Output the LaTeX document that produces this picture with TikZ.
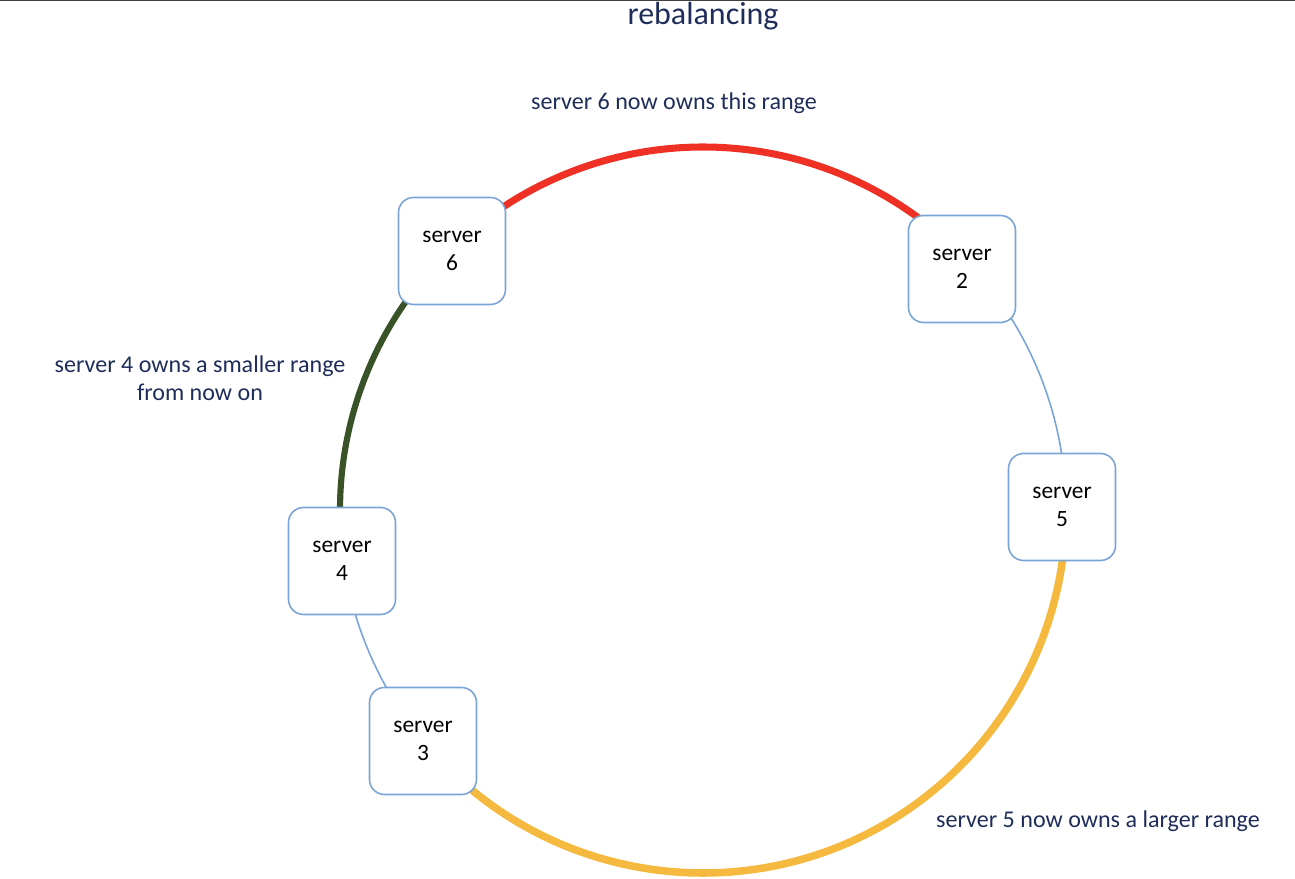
\documentclass[tikz,border=0pt]{standalone}
\usepackage{fontspec}
\setmainfont{Carlito}
\usetikzlibrary{positioning,backgrounds}
\definecolor{navy}{HTML}{1F2D5A}
\definecolor{boxblue}{HTML}{7AA3D6}
\definecolor{arcred}{HTML}{EE3124}
\definecolor{arcgreen}{HTML}{3A5228}
\definecolor{arcyellow}{HTML}{F4B93E}
\begin{document}
\begin{tikzpicture}[x=0.2mm,y=0.2mm,
server/.style={draw=boxblue,line width=0.9pt,fill=white,rounded corners=3mm,minimum width=21.4mm,minimum height=21.4mm,align=center,font=\fontsize{13.3}{16}\selectfont},
caption/.style={text=navy,align=center,font=\fontsize{13.7}{16}\selectfont}]
\useasboundingbox (0,0) rectangle (1295,879);
\draw[black!75,line width=1pt] (0,879) -- (1295,879);

\node[caption,font=\fontsize{18.2}{22}\selectfont] at (703,863) (title) {rebalancing};
\node[caption] at (674,776) (red label) {server 6 now owns this range};
\node[caption] at (200,501) (green label) {server 4 owns a smaller range\\from now on};
\node[caption] at (1098,58) (yellow label) {server 5 now owns a larger range};

\coordinate (o) at (703,369);
\node[server] at (452,628) (s6) {server\\6};
\node[server] at (962,610) (s2) {server\\2};
\node[server] at (1062,372) (s5) {server\\5};
\node[server] at (342,318) (s4) {server\\4};
\node[server] at (423,138) (s3) {server\\3};

\begin{scope}[on background layer]
\draw[arcred,line width=4pt] (o) ++(42.9:363) arc[start angle=42.9,end angle=134.1,radius=363];
\draw[arcgreen,line width=3.5pt] (o) ++(134.1:363) arc[start angle=134.1,end angle=188,radius=363];
\draw[boxblue,line width=0.9pt] (o) ++(188:363) arc[start angle=188,end angle=219.5,radius=363];
\draw[arcyellow,line width=4.3pt] (o) ++(219.5:363) arc[start angle=219.5,end angle=360.5,radius=363];
\draw[boxblue,line width=0.9pt] (o) ++(0.5:363) arc[start angle=0.5,end angle=42.9,radius=363];
\end{scope}
\end{tikzpicture}
\end{document}
